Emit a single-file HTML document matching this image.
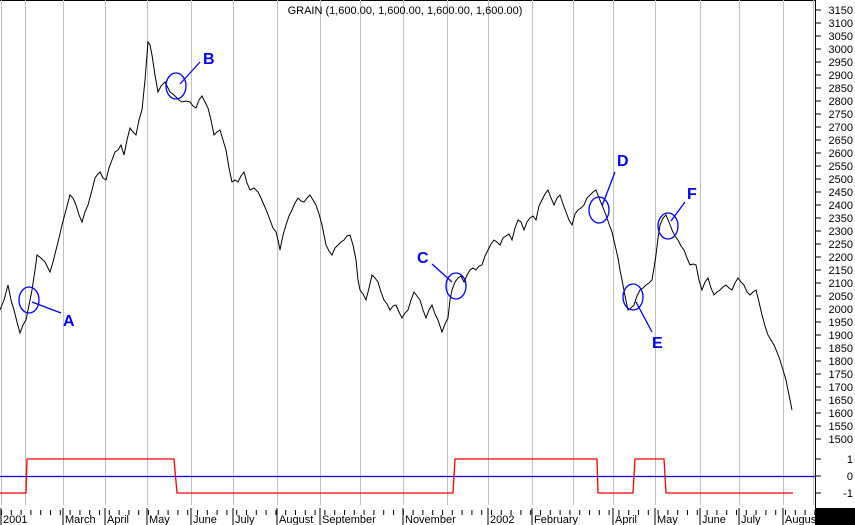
<!DOCTYPE html>
<html><head><meta charset="utf-8"><style>body{margin:0;background:#fff}svg{display:block;font-family:"Liberation Sans",sans-serif}</style></head><body>
<svg width="855" height="525" viewBox="0 0 855 525">
<defs>
<pattern id="bt" x="1" y="0" width="9.8" height="525" patternUnits="userSpaceOnUse"><rect x="0" y="510" width="1" height="5" fill="#000"/></pattern>
<pattern id="rt" x="0" y="0" width="10" height="2.6" patternUnits="userSpaceOnUse"><rect x="0" y="0" width="2" height="1" fill="#000"/></pattern>
</defs>
<rect width="855" height="525" fill="#fff"/>
<line x1="0" y1="0.5" x2="815" y2="0.5" stroke="#000"/>
<g stroke="#c0c0c0" stroke-width="1">
<line x1="1.5" y1="0" x2="1.5" y2="505"/><line x1="25.5" y1="0" x2="25.5" y2="505"/><line x1="63.5" y1="0" x2="63.5" y2="505"/><line x1="105.5" y1="0" x2="105.5" y2="505"/><line x1="147.5" y1="0" x2="147.5" y2="505"/><line x1="191.5" y1="0" x2="191.5" y2="505"/><line x1="233.5" y1="0" x2="233.5" y2="505"/><line x1="277.5" y1="0" x2="277.5" y2="505"/><line x1="320.5" y1="0" x2="320.5" y2="505"/><line x1="360.5" y1="0" x2="360.5" y2="505"/><line x1="403.5" y1="0" x2="403.5" y2="505"/><line x1="447.5" y1="0" x2="447.5" y2="505"/><line x1="488.5" y1="0" x2="488.5" y2="505"/><line x1="532.5" y1="0" x2="532.5" y2="505"/><line x1="573.5" y1="0" x2="573.5" y2="505"/><line x1="613.5" y1="0" x2="613.5" y2="505"/><line x1="655.5" y1="0" x2="655.5" y2="505"/><line x1="700.5" y1="0" x2="700.5" y2="505"/><line x1="739.5" y1="0" x2="739.5" y2="505"/><line x1="783.5" y1="0" x2="783.5" y2="505"/>
<line x1="813.5" y1="0" x2="813.5" y2="505"/>
</g>
<text x="405" y="14" font-size="11" text-anchor="middle">GRAIN (1,600.00, 1,600.00, 1,600.00, 1,600.00)</text>
<polyline fill="none" stroke="#000" stroke-width="1" points="0,310 4,300 8,285 11,300 14,310 17,322 20,333 23,325 26,320 29,305 32,290 35,270 37,255 41,258 45,262 48,268 50,272 53,262 56,250 59,238 62,225 66,210 70,195 73,198 76,205 79,215 82,222 85,212 88,205 92,190 95,178 98,174 100,172 103,178 106,180 109,168 112,160 115,152 118,150 121,145 124,155 127,140 130,128 133,132 136,135 139,120 142,110 145,80 148,42 150,45 152,55 155,75 158,92 161,86 165,82 168,88 170,92 173,94 176,97 179,100 182,102 186,101 190,102 193,106 196,108 199,100 202,96 205,102 208,108 211,120 214,135 217,132 220,130 223,140 226,150 229,168 232,182 235,180 238,182 241,176 244,172 247,183 250,190 254,188 258,192 261,198 264,205 267,212 270,220 273,228 276,232 278,240 280,250 283,235 286,225 289,216 292,210 295,203 298,198 301,201 304,202 307,198 310,195 313,200 316,205 319,214 322,225 324,235 326,245 329,251 332,255 335,248 338,245 341,242 344,240 347,236 350,235 353,245 356,260 358,280 360,290 363,294 366,300 369,288 372,275 375,278 378,282 381,292 384,300 387,304 390,310 393,306 396,305 399,312 402,318 405,313 408,310 411,300 414,292 417,296 420,300 423,310 426,318 429,310 432,305 435,314 438,320 440,326 442,332 445,324 448,318 450,300 452,290 455,282 458,278 461,276 464,282 467,275 470,270 473,268 476,270 479,266 482,265 485,256 488,250 491,244 494,240 497,242 500,245 503,238 506,236 509,234 512,240 515,228 518,220 521,222 524,230 527,222 530,218 533,216 536,220 539,206 542,200 545,194 548,190 551,198 554,205 557,198 560,195 563,204 566,212 569,220 572,225 575,214 578,210 581,208 584,205 587,198 590,195 593,192 596,190 599,198 602,205 604,210 606,215 609,224 612,232 615,245 618,258 620,270 622,280 625,296 628,310 631,308 634,305 637,296 640,290 643,288 646,285 649,283 652,280 654,268 656,255 658,238 660,225 663,218 666,215 669,222 672,230 675,236 678,240 681,246 684,250 687,258 690,265 693,264 696,265 699,280 702,290 705,282 708,278 711,288 714,295 717,292 720,290 723,287 726,285 729,288 732,290 735,283 738,278 741,282 744,285 747,292 750,295 753,292 756,290 759,302 762,315 765,326 768,335 771,340 774,345 777,352 780,360 783,370 786,380 789,395 792,410"/>
<g fill="none" stroke="#0000ff" stroke-width="1.3">
<ellipse cx="29" cy="300" rx="10" ry="13"/><line x1="32" y1="302" x2="61" y2="313"/>
<ellipse cx="176" cy="86" rx="10" ry="13"/><line x1="180" y1="84" x2="200" y2="62"/>
<ellipse cx="456" cy="286" rx="10" ry="13"/><line x1="452" y1="282" x2="432" y2="264"/>
<ellipse cx="599" cy="210" rx="10" ry="13"/><line x1="602" y1="206" x2="615" y2="172"/>
<ellipse cx="633" cy="297" rx="10" ry="13"/><line x1="636" y1="302" x2="652" y2="332"/>
<ellipse cx="668" cy="226" rx="10" ry="13"/><line x1="671" y1="221" x2="685" y2="202"/>
</g>
<g fill="#0000ff" font-size="16" font-weight="bold">
<text x="63" y="326">A</text><text x="203" y="64">B</text><text x="417" y="263">C</text><text x="617" y="166">D</text><text x="652" y="348">E</text><text x="687" y="199">F</text>
</g>
<line x1="0" y1="476.5" x2="815" y2="476.5" stroke="#0000ff" stroke-width="1.3"/>
<polyline fill="none" stroke="#ff0000" stroke-width="1.3" points="0,493 26,493 27,459 174,459 177,493 453,493 455,459 597,459 598,493 633,493 635,459 664,459 666,493 793,493"/>
<line x1="815.5" y1="0" x2="815.5" y2="508" stroke="#000"/>
<rect x="815" y="0" width="2" height="445" fill="url(#rt)"/>
<g font-size="11" text-anchor="end" fill="#000">
<text x="853" y="14">3150</text><text x="853" y="27">3100</text><text x="853" y="40">3050</text><text x="853" y="53">3000</text><text x="853" y="66">2950</text><text x="853" y="79">2900</text><text x="853" y="92">2850</text><text x="853" y="105">2800</text><text x="853" y="118">2750</text><text x="853" y="131">2700</text><text x="853" y="144">2650</text><text x="853" y="157">2600</text><text x="853" y="170">2550</text><text x="853" y="183">2500</text><text x="853" y="196">2450</text><text x="853" y="209">2400</text><text x="853" y="222">2350</text><text x="853" y="235">2300</text><text x="853" y="248">2250</text><text x="853" y="261">2200</text><text x="853" y="274">2150</text><text x="853" y="287">2100</text><text x="853" y="300">2050</text><text x="853" y="313">2000</text><text x="853" y="326">1950</text><text x="853" y="339">1900</text><text x="853" y="352">1850</text><text x="853" y="365">1800</text><text x="853" y="378">1750</text><text x="853" y="391">1700</text><text x="853" y="404">1650</text><text x="853" y="417">1600</text><text x="853" y="430">1550</text><text x="853" y="443">1500</text>
<text x="853" y="463">1</text><text x="853" y="480">0</text><text x="853" y="497">-1</text>
</g>
<g stroke="#000">
<path d="M816,10h5M816,23h5M816,36h5M816,49h5M816,62h5M816,75h5M816,88h5M816,101h5M816,114h5M816,127h5M816,140h5M816,153h5M816,166h5M816,179h5M816,192h5M816,205h5M816,218h5M816,231h5M816,244h5M816,257h5M816,270h5M816,283h5M816,296h5M816,309h5M816,322h5M816,335h5M816,348h5M816,361h5M816,374h5M816,387h5M816,400h5M816,413h5M816,426h5M816,439h5M816,459h5M816,476h5M816,493h5"/>
</g>
<rect x="0" y="508" width="815" height="10" fill="url(#bt)"/>
<g stroke="#000">
<path d="M1,508v17M63,508v17M105,508v17M147,508v17M191,508v17M233,508v17M277,508v17M320,508v17M403,508v17M488,508v17M532,508v17M613,508v17M655,508v17M700,508v17M739,508v17M783,508v17"/>
</g>
<g font-size="11" fill="#000">
<text x="3" y="523">2001</text><text x="65" y="523">March</text><text x="107" y="523">April</text><text x="149" y="523">May</text><text x="193" y="523">June</text><text x="235" y="523">July</text><text x="279" y="523">August</text><text x="322" y="523">September</text><text x="405" y="523">November</text><text x="490" y="523">2002</text><text x="534" y="523">February</text><text x="615" y="523">April</text><text x="657" y="523">May</text><text x="702" y="523">June</text><text x="741" y="523">July</text><text x="785" y="523">August</text>
</g>
<rect x="815" y="508" width="40" height="17" fill="#000"/>
</svg>
</body></html>
